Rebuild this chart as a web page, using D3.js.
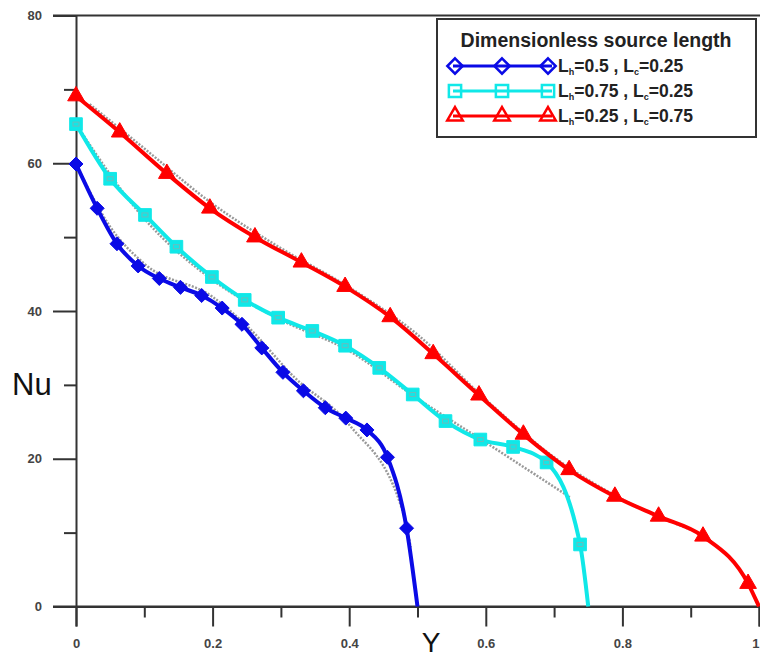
<!DOCTYPE html>
<html>
<head>
<meta charset="utf-8">
<script src="https://cdn.jsdelivr.net/npm/d3@7"></script>
<style>
  html, body { margin: 0; padding: 0; background: #fff; }
  svg { display: block; font-family: "Liberation Sans", Arial, sans-serif; }
</style>
</head>
<body>
<script>
/* Nu along Y for three source lengths */
var yBlue  = [0, 0.031, 0.060, 0.091, 0.122, 0.153, 0.184, 0.214, 0.243, 0.272, 0.303, 0.333, 0.365, 0.395, 0.426, 0.456, 0.484, 0.5];
var nuBlue = [59.9, 53.9, 49.1, 46.1, 44.4, 43.2, 42.1, 40.4, 38.2, 35.0, 31.7, 29.2, 26.9, 25.5, 23.9, 20.2, 10.6, 0];

var yCyan  = [0, 0.050, 0.101, 0.147, 0.199, 0.247, 0.296, 0.346, 0.394, 0.444, 0.493, 0.541, 0.592, 0.640, 0.689, 0.738, 0.75];
var nuCyan = [65.3, 57.9, 53.0, 48.7, 44.6, 41.5, 39.1, 37.3, 35.3, 32.3, 28.7, 25.1, 22.6, 21.6, 19.5, 8.4, 0];

var yRed  = [0, 0.064, 0.133, 0.196, 0.262, 0.330, 0.394, 0.460, 0.523, 0.590, 0.655, 0.722, 0.789, 0.853, 0.918, 0.984, 1.0];
var nuRed = [69.1, 64.2, 58.6, 53.9, 50.0, 46.6, 43.3, 39.2, 34.2, 28.6, 23.3, 18.5, 14.9, 12.2, 9.5, 3.1, 0];

// faint grey comparison curves
var yGrayBlue  = [0, 0.05, 0.1, 0.2, 0.25, 0.32, 0.4, 0.479, 0.49];
var nuGrayBlue = [59.9, 51.4, 46.4, 41.9, 38.0, 31.0, 24.6, 12.7, 8.0];
var yGrayCyan  = [0, 0.1, 0.2, 0.3, 0.4, 0.496, 0.6, 0.723];
var nuGrayCyan = [65.3, 52.5, 44.2, 38.8, 34.6, 28.4, 22.2, 14.8];
var yGrayRed  = [0.02, 0.1, 0.2, 0.3, 0.4, 0.5, 0.6, 0.7, 0.8, 0.9];
var nuGrayRed = [68.0, 62.0, 54.5, 48.5, 43.2, 36.8, 28.0, 20.2, 14.5, 10.4];

var xMajor = [0, 0.2, 0.4, 0.6, 0.8, 1];
var xMinor = [0.1, 0.3, 0.5, 0.7, 0.9];
var yMajor = [0, 20, 40, 60, 80];
var yMinor = [10, 30, 50, 70];

var legendTitle = "Dimensionless source length";
var legendLabels = [
  ["0.5", "0.25"],
  ["0.75", "0.25"],
  ["0.25", "0.75"]
];

var W = 760, H = 657;
var svg = d3.select("body").append("svg")
    .attr("width", W)
    .attr("height", H);

svg.append("rect").attr("width", W).attr("height", H).attr("fill", "#fff");

var x = d3.scaleLinear().domain([0, 1]).range([76, 759]);
var y = d3.scaleLinear().domain([0, 80]).range([606.5, 15.5]);

var axisColor = "#333";

// top frame line at 80
svg.append("line")
    .attr("x1", 53).attr("x2", W)
    .attr("y1", y(80)).attr("y2", y(80))
    .attr("stroke", axisColor).attr("stroke-width", 2);

// x axis
var gx = svg.append("g").attr("transform", "translate(0," + y(0) + ")");
gx.call(d3.axisBottom(x).tickValues(xMajor).tickSize(20).tickPadding(8)
    .tickFormat(function(d){ return d == 0 ? "0" : d == 1 ? "1" : d3.format(".1f")(d); }));
var gx2 = svg.append("g").attr("transform", "translate(0," + y(0) + ")");
gx2.call(d3.axisBottom(x).tickValues(xMinor).tickSize(11).tickFormat(""));
gx2.select(".domain").remove();
svg.append("line")
    .attr("x1", 53).attr("x2", W)
    .attr("y1", y(0)).attr("y2", y(0))
    .attr("stroke", axisColor).attr("stroke-width", 2);

// y axis
var gy = svg.append("g").attr("transform", "translate(" + x(0) + ",0)");
gy.call(d3.axisLeft(y).tickValues(yMajor).tickSize(23).tickPadding(11));
var gy2 = svg.append("g").attr("transform", "translate(" + x(0) + ",0)");
gy2.call(d3.axisLeft(y).tickValues(yMinor).tickSize(12).tickFormat(""));
gy2.select(".domain").remove();

svg.selectAll(".domain").attr("stroke", axisColor).attr("stroke-width", 2);
svg.selectAll(".tick line").attr("stroke", axisColor).attr("stroke-width", 2);
svg.selectAll(".tick text")
    .attr("fill", "#444")
    .attr("font-size", 13)
    .attr("font-weight", "bold")
    .attr("font-family", "Liberation Sans, Arial, sans-serif");
gx.selectAll(".tick text").attr("dy", "1em");
// the last label sits at the right edge
gx.selectAll(".tick text").filter(function(d){ return d == 1; })
    .attr("text-anchor", "end");

// axis titles
svg.append("text")
    .attr("x", 12).attr("y", y(30) + 10)
    .attr("font-size", 31).attr("fill", "#111")
    .text("Nu");
svg.append("text")
    .attr("x", x(0.52)).attr("y", 652)
    .attr("text-anchor", "middle")
    .attr("font-size", 28).attr("fill", "#111")
    .text("Y");

function zip(xs, ys) {
  return xs.map(function(v, i){ return [v, ys[i]]; });
}

var line = d3.line()
    .x(function(d){ return x(d[0]); })
    .y(function(d){ return y(d[1]); })
    .curve(d3.curveMonotoneX);

// grey comparison lines
[[yGrayBlue, nuGrayBlue], [yGrayCyan, nuGrayCyan], [yGrayRed, nuGrayRed]].forEach(function(s){
  svg.append("path")
      .attr("d", line(zip(s[0], s[1])))
      .attr("fill", "none")
      .attr("stroke", "#999")
      .attr("stroke-width", 2.5)
      .attr("stroke-dasharray", "2,1.5");
});

var series = [
  { xs: yBlue, ys: nuBlue, color: "#0a0ae6", symbol: d3.symbolDiamond2, size: 125, lsize: 150 },
  { xs: yCyan, ys: nuCyan, color: "#10e8e8", symbol: d3.symbolSquare,   size: 160, lsize: 150 },
  { xs: yRed,  ys: nuRed,  color: "#ff0000", symbol: d3.symbolTriangle, size: 120, lsize: 105 }
];

series.forEach(function(s){
  var pts = zip(s.xs, s.ys);
  svg.append("path")
      .attr("d", line(pts))
      .attr("fill", "none")
      .attr("stroke", s.color)
      .attr("stroke-width", 4);
  // markers on all points except the end on the axis
  svg.append("g").selectAll("path")
      .data(pts.slice(0, pts.length - 1))
      .enter()
      .append("path")
      .attr("transform", function(d){ return "translate(" + x(d[0]) + "," + y(d[1]) + ")"; })
      .attr("d", d3.symbol().type(s.symbol).size(s.size))
      .attr("fill", s.color)
      .attr("stroke", s.color)
      .attr("stroke-width", 1);
  if (s.symbol === d3.symbolSquare) {
    svg.append("g").selectAll("rect")
        .data(pts.slice(0, pts.length - 1))
        .enter()
        .append("rect")
        .attr("x", function(d){ return x(d[0]) - 3; })
        .attr("y", function(d){ return y(d[1]) - 2; })
        .attr("width", 6).attr("height", 4)
        .attr("fill", "none")
        .attr("stroke", "#6bbcbc")
        .attr("stroke-width", 1);
  }
});

// legend
var lg = svg.append("g");
lg.append("rect")
    .attr("x", 437).attr("y", 19)
    .attr("width", 319).attr("height", 118)
    .attr("fill", "#fff")
    .attr("stroke", "#333")
    .attr("stroke-width", 2);
lg.append("text")
    .attr("x", 596).attr("y", 47)
    .attr("text-anchor", "middle")
    .attr("font-size", 19.5).attr("font-weight", "bold").attr("fill", "#222")
    .text(legendTitle);

var legendRows = [66, 91, 116];
var legendMarkX = [455, 502, 548];
series.forEach(function(s, i){
  var ly = legendRows[i];
  lg.append("line")
      .attr("x1", 453).attr("x2", 552)
      .attr("y1", ly).attr("y2", ly)
      .attr("stroke", s.color)
      .attr("stroke-width", 3);
  lg.selectAll(null)
      .data(legendMarkX)
      .enter()
      .append("path")
      .attr("transform", function(d){ return "translate(" + d + "," + ly + ")"; })
      .attr("d", d3.symbol().type(s.symbol).size(s.lsize))
      .attr("fill", "#fff")
      .attr("fill-opacity", 0)
      .attr("stroke", s.color)
      .attr("stroke-width", 2.5);
  var t = lg.append("text")
      .attr("x", 558).attr("y", ly + 6)
      .attr("font-size", 17.5).attr("font-weight", "bold").attr("fill", "#222");
  t.append("tspan").text("L");
  t.append("tspan").attr("font-size", 9).attr("dy", 3).text("h");
  t.append("tspan").attr("dy", -3).text("=" + legendLabels[i][0] + " , L");
  t.append("tspan").attr("font-size", 9).attr("dy", 3).text("c");
  t.append("tspan").attr("dy", -3).text("=" + legendLabels[i][1]);
});
</script>
</body>
</html>
